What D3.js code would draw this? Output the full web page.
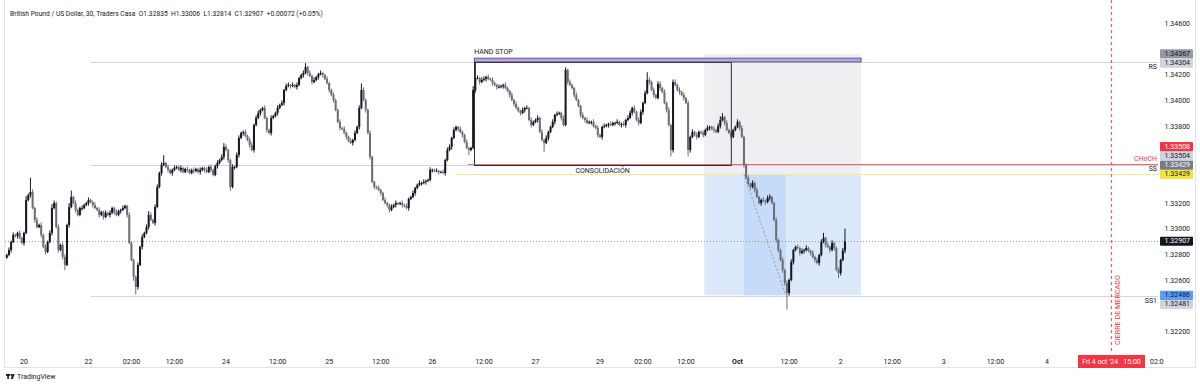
<!DOCTYPE html>
<html>
<head>
<meta charset="utf-8">
<script src="https://cdn.jsdelivr.net/npm/d3@7"></script>
<style>
  body { margin: 0; background: #fff; }
  svg { display: block; font-family: Roboto, "Noto Sans", sans-serif; }
</style>
</head>
<body>
<svg id="chart" width="1200" height="387"></svg>
<script>
// GBPUSD 30m candles, bar index 0 = Fri 20 Sep 00:00, first visible bar is -8
const firstBar = -8;
const firstOpen = 1.32780;
const closes = [
  1.32800,1.32839,1.32902,1.32956,1.32948,1.32972,1.32933,1.32894,1.32972,1.33229,1.33268,1.33291,1.33166,1.33073,1.33018,1.33034,1.32956,1.32863,1.32824,1.32902,
  1.32972,1.33166,1.33205,1.33018,1.32839,1.32878,1.32785,1.32722,1.33034,1.33174,1.33252,1.33205,1.33151,1.33112,1.33166,1.33166,1.33190,1.33205,1.33229,1.33213,
  1.33190,1.33166,1.33151,1.33112,1.33135,1.33096,1.33128,1.33112,1.33128,1.33166,1.33135,1.33112,1.33143,1.33151,1.33166,1.33182,1.33112,1.32894,1.32761,1.32629,
  1.32551,1.32722,1.32863,1.32941,1.32972,1.33018,1.33112,1.33073,1.33050,1.33174,1.33330,1.33439,1.33502,1.33517,1.33486,1.33463,1.33439,1.33463,1.33478,1.33486,
  1.33463,1.33478,1.33447,1.33470,1.33463,1.33439,1.33463,1.33455,1.33470,1.33447,1.33463,1.33478,1.33463,1.33447,1.33486,1.33463,1.33424,1.33494,1.33517,1.33540,
  1.33564,1.33642,1.33618,1.33540,1.33330,1.33486,1.33486,1.33579,1.33712,1.33751,1.33759,1.33727,1.33696,1.33657,1.33618,1.33813,1.33868,1.33907,1.33930,1.33946,
  1.33868,1.33774,1.33751,1.33868,1.33883,1.33907,1.33946,1.33969,1.33985,1.34086,1.34117,1.34125,1.34117,1.34125,1.34109,1.34125,1.34179,1.34203,1.34218,1.34265,
  1.34218,1.34195,1.34148,1.34164,1.34187,1.34210,1.34218,1.34203,1.34172,1.34140,1.34086,1.34047,1.34008,1.33930,1.33837,1.33790,1.33782,1.33751,1.33720,1.33689,
  1.33673,1.33696,1.33751,1.33798,1.33946,1.34086,1.34008,1.33930,1.33751,1.33564,1.33369,1.33330,1.33322,1.33307,1.33283,1.33229,1.33205,1.33190,1.33151,1.33174,
  1.33190,1.33205,1.33198,1.33205,1.33190,1.33182,1.33166,1.33237,1.33252,1.33283,1.33322,1.33346,1.33361,1.33361,1.33369,1.33377,1.33385,1.33463,1.33463,1.33455,
  1.33455,1.33447,1.33447,1.33439,1.33540,1.33618,1.33642,1.33712,1.33774,1.33798,1.33782,1.33759,1.33735,1.33681,1.33634,1.33618,1.33634,1.34086,1.34179,1.34179,
  1.34148,1.34164,1.34172,1.34187,1.34172,1.34164,1.34140,1.34125,1.34109,1.34109,1.34117,1.34125,1.34101,1.34078,1.34047,1.34008,1.33977,1.33946,1.33922,1.33907,
  1.33930,1.33946,1.33946,1.33852,1.33813,1.33837,1.33852,1.33868,1.33759,1.33696,1.33673,1.33712,1.33759,1.33798,1.33837,1.33891,1.33899,1.33907,1.33868,1.33813,
  1.34242,1.34148,1.34125,1.34101,1.34047,1.34008,1.33961,1.33891,1.33868,1.33852,1.33829,1.33837,1.33837,1.33805,1.33790,1.33735,1.33720,1.33798,1.33805,1.33813,
  1.33821,1.33813,1.33829,1.33829,1.33837,1.33813,1.33821,1.33813,1.33852,1.33868,1.33907,1.33946,1.33914,1.33852,1.33829,1.33914,1.33985,1.34062,1.34164,1.34148,
  1.34086,1.34047,1.34023,1.34133,1.34101,1.34070,1.33985,1.33930,1.33813,1.33618,1.34148,1.34125,1.34086,1.34070,1.34047,1.34023,1.33985,1.33618,1.33720,1.33759,
  1.33735,1.33720,1.33759,1.33751,1.33735,1.33774,1.33790,1.33798,1.33782,1.33774,1.33759,1.33805,1.33852,1.33875,1.33829,1.33774,1.33751,1.33720,1.33774,1.33798,
  1.33837,1.33790,1.33720,1.33502,1.33400,1.33354,1.33330,1.33361,1.33307,1.33252,1.33205,1.33229,1.33221,1.33213,1.33244,1.33252,1.33205,1.33073,1.32917,1.32839,
  1.32761,1.32683,1.32582,1.32504,1.32606,1.32746,1.32839,1.32863,1.32855,1.32816,1.32831,1.32839,1.32855,1.32831,1.32816,1.32785,1.32761,1.32738,1.32800,1.32902,
  1.32933,1.32878,1.32863,1.32839,1.32894,1.32855,1.32683,1.32660,1.32761,1.32835,1.32907
];
// wick lengths in pips above / below the body
const wickUp = [
  1,2,1,2,1,1,2,1,1,3,1,11,2,1,2,1,2,1,2,1,
  2,3,2,1,2,1,2,2,1,3,5,1,2,1,1,2,1,1,2,1,
  1,2,1,2,1,1,2,1,2,1,1,2,1,1,2,1,1,2,1,1,
  1,2,1,2,1,2,3,2,1,2,2,1,2,6,1,2,1,1,2,1,
  1,2,1,1,2,1,1,2,1,1,2,1,1,2,1,2,1,1,2,1,
  2,3,2,1,1,2,1,2,2,1,1,2,1,2,2,1,2,2,1,1,
  2,1,1,2,1,1,2,1,2,1,2,2,1,2,1,2,1,1,2,3,
  1,2,1,2,1,1,2,1,1,2,1,1,2,1,1,2,1,2,1,1,
  2,1,2,1,2,5,2,1,1,2,1,1,1,2,1,1,2,1,1,2,
  1,2,1,1,2,1,2,1,1,2,1,1,2,1,2,1,1,2,1,1,
  2,1,1,2,1,2,2,1,2,1,1,2,1,1,2,1,1,3,12,2,
  1,2,2,1,2,1,2,1,1,2,1,1,2,1,1,2,1,2,1,1,
  2,1,2,1,2,1,1,2,1,2,1,2,1,1,2,1,2,1,1,2,
  2,1,2,1,1,2,1,1,2,1,2,1,1,2,1,2,1,1,2,1,
  1,2,1,1,2,1,1,2,1,2,2,1,2,1,2,2,1,2,6,2,
  1,2,1,2,2,1,2,1,2,1,2,2,1,2,1,2,1,2,1,2,
  1,2,1,1,2,1,2,1,1,2,1,2,3,3,1,2,1,2,1,1,
  2,1,2,1,1,2,1,2,1,2,1,1,2,1,2,2,1,1,2,1,
  1,2,1,2,1,2,1,1,2,1,2,1,2,1,1,2,1,2,1,2,
  4,1,2,1,2,1,1,2,1,2,9.9
];
const wickDn = [
  1,1,2,1,1,2,1,1,2,1,1,2,1,2,1,1,2,1,2,1,
  1,2,1,1,2,1,2,4,1,2,1,1,2,1,1,2,1,1,2,1,
  2,1,1,2,1,2,1,1,2,1,2,1,1,2,1,1,2,1,1,3,
  6,2,1,2,1,1,2,1,1,2,1,1,2,1,1,2,1,2,1,1,
  1,2,1,1,2,1,1,2,1,1,2,1,2,1,1,2,1,1,2,1,
  1,2,1,2,3,1,2,1,2,1,2,1,1,2,1,2,1,1,2,1,
  1,2,1,2,1,1,2,1,1,2,1,1,2,1,1,2,1,1,2,1,
  2,1,2,1,1,2,1,2,1,1,2,1,2,1,1,2,1,1,2,1,
  1,2,1,1,2,1,1,2,1,2,1,2,1,1,2,1,1,2,2,1,
  1,2,1,1,2,1,1,2,1,1,2,1,1,2,1,2,1,1,2,1,
  1,2,1,1,2,1,1,2,1,1,2,1,2,1,1,4,1,1,2,1,
  2,1,1,2,1,1,2,1,2,1,1,2,1,1,2,1,2,1,1,2,
  1,2,1,1,2,1,1,2,1,1,7,1,2,1,1,2,1,1,2,1,
  1,2,1,1,2,1,1,2,1,2,1,1,2,1,1,2,1,2,1,1,
  2,1,1,2,1,1,2,1,2,1,1,2,1,1,2,1,2,1,1,2,
  1,2,1,1,2,1,1,2,1,5,2,1,1,2,1,2,1,5,2,1,
  1,2,1,1,2,1,1,2,1,2,1,1,2,1,2,1,1,2,1,1,
  1,2,1,2,1,1,2,1,2,1,1,2,1,2,1,2,1,1,2,2,
  1,2,2,13,2,1,2,1,1,2,1,2,1,1,2,1,2,1,2,1,
  1,2,1,2,1,2,1,4,2,1,2.1
];

const timeTicks = [
  {bar: 0, label: "20"}, {bar: 30, label: "22"}, {bar: 50, label: "02:00"}, {bar: 70, label: "12:00"},
  {bar: 94, label: "24"}, {bar: 118, label: "12:00"}, {bar: 142, label: "25"}, {bar: 166, label: "12:00"},
  {bar: 190, label: "26"}, {bar: 214, label: "12:00"}, {bar: 238, label: "27"}, {bar: 268, label: "29"},
  {bar: 288, label: "02:00"}, {bar: 308, label: "12:00"}, {bar: 332, label: "Oct", bold: true},
  {bar: 356, label: "12:00"}, {bar: 380, label: "2"}, {bar: 404, label: "12:00"}, {bar: 428, label: "3"},
  {bar: 452, label: "12:00"}, {bar: 476, label: "4"}, {bar: 528, label: "02:00"}
];
const priceTicks = [1.346, 1.344, 1.342, 1.340, 1.338, 1.336, 1.334, 1.332, 1.330, 1.328, 1.326, 1.324, 1.322];

// drawings: levels and zones (bar index, price)
const closeBar = 506;        // Fri 4 oct '24 15:00
const lineStart = 31;
const levelRS = 1.34304, levelMid = 1.33504, levelSS1 = 1.32481;
const levelCHoCH = 1.33508, levelSS = 1.33429;
const handStop = {from: 209.5, to: 389.5, top: 1.34334, bottom: 1.34304};
const consolidation = {from: 209.5, to: 329, top: 1.34304, bottom: 1.33504};
const grayZone = {from: 316.5, to: 389.5, top: 1.34367, bottom: 1.33429};
const blueZone = {from: 316.5, to: 389.5, top: 1.33429, bottom: 1.32486};
const blueInner = {from: 335, to: 354.5, top: 1.33429, bottom: 1.32486};

// scales
const x = d3.scaleLinear().domain([0, 476]).range([24, 1047]);
const y = d3.scaleLinear().domain([1.322, 1.346]).range([332, 24]);
const paneL = 5, paneR = 1158, paneB = 353;

const bars = closes.map((c, k) => {
  const o = k === 0 ? firstOpen : closes[k - 1];
  return {i: firstBar + k, o: o, c: c,
          h: Math.max(o, c) + wickUp[k] * 1e-4,
          l: Math.min(o, c) - wickDn[k] * 1e-4};
});
const last = bars[bars.length - 1];

const svg = d3.select("#chart");
svg.append("defs").append("clipPath").attr("id", "pane")
   .append("rect").attr("x", paneL).attr("y", 0).attr("width", paneR - paneL).attr("height", paneB);
svg.append("defs").append("clipPath").attr("id", "timeclip")
   .append("rect").attr("x", paneL).attr("y", paneB).attr("width", 1164 - paneL).attr("height", 20);

// frame
svg.append("path")
   .attr("d", `M4.5,0 V367.5 H1195.5 V0`)
   .attr("fill", "none").attr("stroke", "#e0e3eb");

const pane = svg.append("g").attr("clip-path", "url(#pane)");

// zones
function zone(z, fill) {
  pane.append("rect")
      .attr("x", x(z.from)).attr("y", y(z.top))
      .attr("width", x(z.to) - x(z.from)).attr("height", y(z.bottom) - y(z.top))
      .attr("fill", fill);
}
zone(grayZone, "#efeff2");
zone(blueZone, "#dce9fb");
zone(blueInner, "#c5dbf8");

// horizontal levels
function hline(price, from, color, dash, opacity) {
  pane.append("line")
      .attr("x1", x(from)).attr("x2", paneR)
      .attr("y1", Math.round(y(price)) + 0.5).attr("y2", Math.round(y(price)) + 0.5)
      .attr("stroke", color).attr("stroke-width", 1)
      .attr("stroke-opacity", opacity || 1)
      .attr("stroke-dasharray", dash || null);
}
hline(levelRS, lineStart, "#d1d4dc");
hline(levelMid, lineStart, "#d1d4dc");
hline(levelSS1, lineStart, "#d1d4dc");
hline(levelSS, 200.5, "#f7e98e");
hline(last.c, -20, "#9598a1", "1,2");

// diagonal in the blue zone
pane.append("line")
    .attr("x1", x(blueInner.from)).attr("y1", y(blueInner.top))
    .attr("x2", x(blueInner.to)).attr("y2", y(blueInner.bottom))
    .attr("stroke", "#9598a1").attr("stroke-dasharray", "2,2");

// candles
const upColor = "#131722", downColor = "#6a6d77";
const colorOf = d => d.c >= d.o ? upColor : downColor;
pane.append("g").selectAll("line").data(bars).join("line")
    .attr("x1", d => x(d.i)).attr("x2", d => x(d.i))
    .attr("y1", d => y(d.h)).attr("y2", d => y(d.l))
    .attr("stroke", colorOf).attr("stroke-width", 1);
pane.append("g").selectAll("rect").data(bars).join("rect")
    .attr("x", d => x(d.i) - 1).attr("width", 2)
    .attr("y", d => y(Math.max(d.o, d.c)))
    .attr("height", d => Math.max(0.8, Math.abs(y(d.o) - y(d.c))))
    .attr("fill", colorOf);

// consolidation box
pane.append("rect")
    .attr("x", Math.round(x(consolidation.from)) + 0.5).attr("y", Math.round(y(consolidation.top)) + 0.5)
    .attr("width", x(consolidation.to) - x(consolidation.from))
    .attr("height", Math.round(y(consolidation.bottom)) - Math.round(y(consolidation.top)))
    .attr("fill", "none").attr("stroke", "#2a2e39").attr("stroke-width", 1);
hline(levelCHoCH, 206.5, "#f23645", null, 0.75);

// hand stop band
pane.append("rect")
    .attr("x", x(handStop.from)).attr("y", y(handStop.top))
    .attr("width", x(handStop.to) - x(handStop.from))
    .attr("height", y(handStop.bottom) - y(handStop.top))
    .attr("fill", "#b9a6e0").attr("stroke", "#4a3f6b").attr("stroke-width", 0.8);

// drawing texts
const txt = (tx, ty, s, anchor, color) => pane.append("text")
    .attr("x", tx).attr("y", ty).attr("text-anchor", anchor || "start")
    .attr("dominant-baseline", "central")
    .attr("font-size", 7).attr("fill", color || "#131722").text(s);
txt(x(handStop.from), y(handStop.top) - 6, "HAND STOP");
txt((x(consolidation.from) + x(consolidation.to)) / 2, y(consolidation.bottom) + 6.5, "CONSOLIDACIÓN", "middle");
txt(paneR - 1, y(levelRS) + 5.5, "RS", "end");
txt(paneR - 1, y(levelCHoCH) - 5.5, "CHoCH", "end", "#f23645");
txt(paneR - 1, y(levelSS) - 5, "SS", "end");
txt(paneR - 1, y(levelSS1) + 5.5, "SS1", "end");

// market close line
svg.append("line")
    .attr("x1", x(closeBar)).attr("x2", x(closeBar))
    .attr("y1", 0).attr("y2", paneB)
    .attr("stroke", "#f23645").attr("stroke-width", 1.2).attr("stroke-opacity", 0.8)
    .attr("stroke-dasharray", "3,3");
pane.append("text")
    .attr("transform", `translate(${x(closeBar) + 6},${paneB - 8}) rotate(-90)`)
    .attr("font-size", 7.2).attr("fill", "#f23645").attr("dominant-baseline", "central")
    .text("CIERRE DE MERCADO");

// price axis
const fmt = d3.format(".5f");
const priceLabels = [
  {price: levelSS, bg: "#f5e43a", fg: "#131722"},
  {price: blueZone.top, bg: "#787b86", fg: "#ffffff"},
  {price: levelMid, bg: "#d1d4dc", fg: "#131722"},
  {price: levelCHoCH, bg: "#f23645", fg: "#ffffff"},
  {price: blueZone.bottom, bg: "#5c9cf5", fg: "#131722"},
  {price: levelSS1, bg: "#d1d4dc", fg: "#131722"},
  {price: grayZone.top, bg: "#9598a1", fg: "#131722"},
  {price: levelRS, bg: "#d1d4dc", fg: "#131722"},
  {price: last.c, bg: "#131722", fg: "#ffffff"}
];
// stack overlapping labels to the nearest free slot
const lh = 9.2;
const placed = [];
priceLabels.forEach(p => {
  const t = y(p.price);
  const cands = [t];
  placed.forEach(q => { cands.push(q.ly - lh, q.ly + lh); });
  const free = cands.filter(c => placed.every(q => Math.abs(c - q.ly) >= lh - 0.01));
  free.sort((a, b) => (Math.abs(a - t) - Math.abs(b - t)) || (a - b));
  p.ly = free[0];
  placed.push(p);
});
// tick labels that sit under a label box are hidden
const visibleTicks = priceTicks.filter(v => placed.every(q => Math.abs(y(v) - q.ly) > lh - 1));
svg.append("g").selectAll("text").data(visibleTicks).join("text")
   .attr("x", 1190).attr("y", d => y(d)).attr("text-anchor", "end")
   .attr("dominant-baseline", "central").attr("font-size", 7).attr("fill", "#131722")
   .text(fmt);

const pl = svg.append("g").selectAll("g").data(priceLabels).join("g")
   .attr("transform", d => `translate(0,${d.ly})`);
pl.append("rect").attr("x", 1160).attr("y", -lh / 2).attr("width", 33).attr("height", lh)
  .attr("rx", 1).attr("fill", d => d.bg);
pl.append("text").attr("x", 1190).attr("text-anchor", "end").attr("dominant-baseline", "central")
  .attr("font-size", 7).attr("fill", d => d.fg).text(d => fmt(d.price));

// time axis
const tg = svg.append("g").attr("clip-path", "url(#timeclip)");
tg.selectAll("text").data(timeTicks).join("text")
  .attr("x", d => x(d.bar)).attr("y", 362).attr("text-anchor", "middle")
  .attr("dominant-baseline", "central").attr("font-size", 7).attr("fill", "#131722")
  .attr("font-weight", d => d.bold ? "bold" : null)
  .text(d => d.label);
svg.append("rect").attr("x", x(closeBar) - 33.5).attr("y", 355).attr("width", 67).attr("height", 13)
   .attr("fill", "#f23645");
svg.append("text").attr("x", x(closeBar)).attr("y", 361.5).attr("text-anchor", "middle")
   .attr("dominant-baseline", "central").attr("font-size", 7).attr("fill", "#fff")
   .attr("xml:space", "preserve").text("Fri 4 oct '24   15:00");

// header
const chg = last.c - last.o;
svg.append("text").attr("x", 10).attr("y", 14).attr("dominant-baseline", "central")
   .attr("font-size", 6.7).attr("fill", "#131722").attr("xml:space", "preserve")
   .text(`British Pound / US Dollar, 30, Traders Casa  O${fmt(last.o)}  H${fmt(last.h)}  L${fmt(last.l)}  C${fmt(last.c)}  ${chg >= 0 ? "+" : ""}${fmt(chg)} (${chg >= 0 ? "+" : ""}${(chg / last.o * 100).toFixed(2)}%)`);

// TradingView logo
const logo = svg.append("g").attr("transform", "translate(6,374)");
logo.append("rect").attr("x", 0).attr("y", 0).attr("width", 4).attr("height", 1.8).attr("fill", "#131722");
logo.append("rect").attr("x", 1.3).attr("y", 0).attr("width", 1.6).attr("height", 5).attr("fill", "#131722");
logo.append("circle").attr("cx", 5.3).attr("cy", 0.9).attr("r", 0.9).attr("fill", "#131722");
logo.append("path").attr("d", "M6.4,0 H8.6 L6.9,5 H4.8 Z").attr("fill", "#131722");
svg.append("text").attr("x", 17).attr("y", 377).attr("dominant-baseline", "central")
   .attr("font-size", 7).attr("fill", "#131722").text("TradingView");
</script>
</body>
</html>
